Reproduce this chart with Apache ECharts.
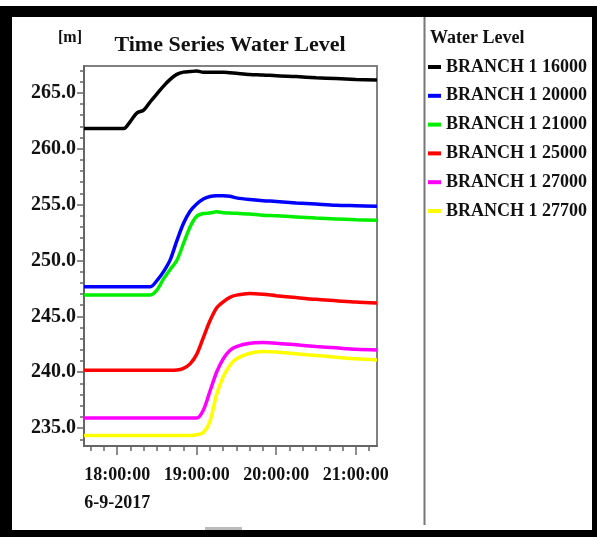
<!DOCTYPE html>
<html>
<head>
<meta charset="utf-8">
<script src="https://cdn.jsdelivr.net/npm/echarts@6/dist/echarts.min.js"></script>
<style>
  html, body { margin: 0; padding: 0; background: #fff; }
  #main { width: 597px; height: 537px; }
</style>
</head>
<body>
<div id="main"></div>
<script>
// minutes after 18:00:00 on 6-9-2017
const times = [-25, 0, 5, 10, 15, 20, 25, 30, 35, 40, 45, 50, 55, 60, 65, 70, 75, 80, 85, 90, 100, 110, 120, 135, 150, 165, 180, 196];

const names = ['BRANCH 1 16000', 'BRANCH 1 20000', 'BRANCH 1 21000', 'BRANCH 1 25000', 'BRANCH 1 27000', 'BRANCH 1 27700'];
const colors = ['#000000', '#0000ff', '#00ee00', '#ff0000', '#ff00ff', '#ffff00'];

const branch16000 = [261.8, 261.8, 261.8, 262.45, 263.2, 263.45, 264.2, 264.9, 265.6, 266.2, 266.65, 266.85, 266.9, 266.95, 266.85, 266.85, 266.85, 266.85, 266.8, 266.75, 266.65, 266.6, 266.52, 266.45, 266.35, 266.28, 266.2, 266.15];
const branch20000 = [247.65, 247.65, 247.65, 247.65, 247.65, 247.65, 247.65, 248.2, 249.0, 250.05, 251.75, 253.3, 254.4, 255.05, 255.5, 255.72, 255.78, 255.78, 255.75, 255.6, 255.45, 255.35, 255.28, 255.15, 255.05, 254.95, 254.9, 254.85];
const branch21000 = [246.92, 246.92, 246.92, 246.92, 246.92, 246.92, 246.92, 247.35, 248.35, 249.2, 250.0, 251.5, 253.0, 253.95, 254.2, 254.25, 254.35, 254.28, 254.25, 254.22, 254.15, 254.05, 254.0, 253.9, 253.8, 253.72, 253.65, 253.6];
const branch25000 = [240.18, 240.18, 240.18, 240.18, 240.18, 240.18, 240.18, 240.18, 240.18, 240.18, 240.2, 240.35, 240.75, 241.6, 243.1, 244.6, 245.75, 246.3, 246.7, 246.9, 247.05, 246.98, 246.85, 246.68, 246.52, 246.4, 246.28, 246.2];
const branch27000 = [235.9, 235.9, 235.9, 235.9, 235.9, 235.9, 235.9, 235.9, 235.9, 235.9, 235.9, 235.9, 235.9, 235.9, 236.6, 238.3, 240.0, 241.2, 241.95, 242.3, 242.6, 242.65, 242.6, 242.45, 242.3, 242.18, 242.05, 242.0];
const branch27700 = [234.35, 234.35, 234.35, 234.35, 234.35, 234.35, 234.35, 234.35, 234.35, 234.35, 234.35, 234.35, 234.35, 234.4, 234.6, 235.6, 238.0, 239.6, 240.6, 241.2, 241.7, 241.85, 241.8, 241.65, 241.5, 241.35, 241.2, 241.1];
const seriesValues = [branch16000, branch20000, branch21000, branch25000, branch27000, branch27700];

// tick labels
const yLabels = [235, 240, 245, 250, 255, 260, 265];
const yMinor = [234, 235, 236, 237, 238, 239, 240, 241, 242, 243, 244, 245, 246, 247, 248, 249, 250, 251, 252, 253, 254, 255, 256, 257, 258, 259, 260, 261, 262, 263, 264, 265, 266, 267];
const xLabels = [0, 60, 120, 180];
const xMinor = [-20, -10, 0, 10, 20, 30, 40, 50, 60, 70, 80, 90, 100, 110, 120, 130, 140, 150, 160, 170, 180, 190];
const dateLabel = '6-9-2017';

const font = '"Liberation Serif", "Times New Roman", serif';
const textColor = '#111';

const chart = echarts.init(document.getElementById('main'));

const series = names.map((n, i) => ({
  name: n,
  type: 'line',
  xAxisIndex: 0,
  yAxisIndex: 0,
  symbol: 'none',
  smooth: 0.3,
  color: colors[i],
  lineStyle: { width: 3.5, color: colors[i] },
  data: times.map((t, k) => [t, seriesValues[i][k]]),
  z: 10 - i,
}));

const xBase = {
  type: 'value',
  min: -25,
  max: 196,
  position: 'bottom',
  splitLine: { show: false },
};
const yBase = {
  type: 'value',
  min: 233.4,
  max: 267.4,
  position: 'left',
  splitLine: { show: false },
};

const option = {
  animation: false,
  backgroundColor: '#fff',
  grid: {
    left: 84, right: 220, top: 66, bottom: 91,
    show: true, borderColor: '#808080', borderWidth: 2,
  },
  legend: {
    orient: 'vertical',
    left: 428,
    top: 58,
    padding: 0,
    icon: 'rect',
    itemWidth: 13,
    itemHeight: 4,
    itemGap: 10.8,
    textStyle: { fontFamily: font, fontWeight: 'bold', fontSize: 18, color: textColor, lineHeight: 18 },
    data: names,
  },
  xAxis: [
    Object.assign({}, xBase, {
      axisLine: { onZero: false, lineStyle: { color: '#666', width: 2 } },
      axisTick: { customValues: xMinor, length: 5, lineStyle: { color: '#666', width: 1.5 } },
      axisLabel: {
        customValues: xLabels,
        margin: 15,
        fontFamily: font, fontWeight: 'bold', fontSize: 18, color: textColor, lineHeight: 28,
        formatter: v => {
          const s = (18 + Math.round(v / 60)) + ':00:00';
          return v === 0 ? s + '\n' + dateLabel : s;
        },
      },
    }),
    Object.assign({}, xBase, {
      axisLine: { show: false, onZero: false },
      axisTick: { customValues: xLabels, length: 9, lineStyle: { color: '#666', width: 1.5 } },
      axisLabel: { show: false },
    }),
  ],
  yAxis: [
    Object.assign({}, yBase, {
      axisLine: { onZero: false, lineStyle: { color: '#666', width: 2 } },
      axisTick: { customValues: yMinor, length: 4, lineStyle: { color: '#666', width: 1.5 } },
      axisLabel: {
        customValues: yLabels,
        margin: 8,
        fontFamily: font, fontWeight: 'bold', fontSize: 20, color: textColor,
        formatter: v => v.toFixed(1),
      },
    }),
    Object.assign({}, yBase, {
      axisLine: { show: false, onZero: false },
      axisTick: { customValues: yLabels, length: 7, lineStyle: { color: '#666', width: 1.5 } },
      axisLabel: { show: false },
    }),
  ],
  graphic: [
    // outer frame
    { type: 'rect', shape: { x: 0, y: 6, width: 597, height: 11 }, style: { fill: '#000' } },
    { type: 'rect', shape: { x: 0, y: 6, width: 12, height: 531 }, style: { fill: '#000' } },
    { type: 'rect', shape: { x: 592, y: 6, width: 5, height: 531 }, style: { fill: '#000' } },
    { type: 'rect', shape: { x: 0, y: 530, width: 597, height: 7 }, style: { fill: '#000' } },
    { type: 'rect', shape: { x: 205, y: 527, width: 37, height: 3 }, style: { fill: '#bbb' } },
    // divider between plot and legend
    { type: 'line', shape: { x1: 424.5, y1: 17, x2: 424.5, y2: 525 }, style: { stroke: '#777', lineWidth: 2 } },
    // texts
    { type: 'text', x: 230, y: 45, style: { text: 'Time Series Water Level', fontFamily: font, fontWeight: 'bold', fontSize: 22, fill: textColor, align: 'center', verticalAlign: 'middle' } },
    { type: 'text', x: 70, y: 38, style: { text: '[m]', fontFamily: font, fontWeight: 'bold', fontSize: 16, fill: textColor, align: 'center', verticalAlign: 'middle' } },
    { type: 'text', x: 430, y: 38, style: { text: 'Water Level', fontFamily: font, fontWeight: 'bold', fontSize: 18, fill: textColor, align: 'left', verticalAlign: 'middle' } },
  ],
  series: series,
};

chart.setOption(option);
</script>
</body>
</html>
